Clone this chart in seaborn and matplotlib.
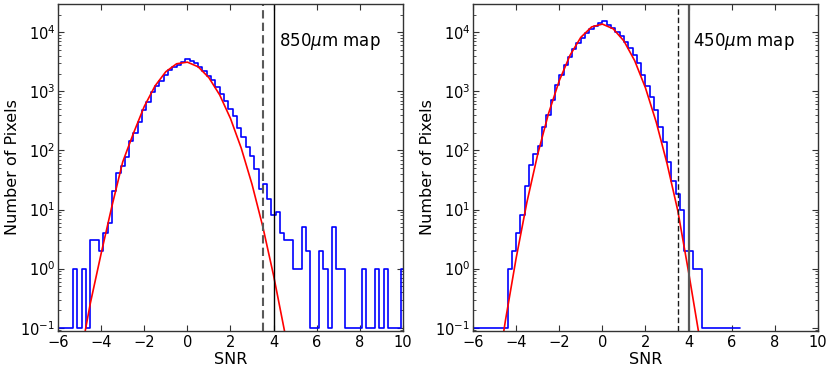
import numpy as np
import matplotlib
matplotlib.use("Agg")
import matplotlib.pyplot as plt
import seaborn as sns

# --- data ---
# 850um map: bins of width 0.2 centred on -6.0 ... 10.0 (empty bins plotted at 0.1)
snr850_first_edge = -6.1
counts_850 = [
    0.1, 0.1, 0.1, 0.1, 1, 0.1, 1, 0.1, 3, 3,          # -6.0 .. -4.2
    2, 4, 6, 21, 41, 54, 78, 143, 195, 299,             # -4.0 .. -2.2
    485, 670, 962, 1250, 1515, 1860, 2260, 2540, 2820, 3090,  # -2.0 .. -0.2
    3500, 3260, 2970, 2610, 2240, 1840, 1580, 1190, 915, 697,  # 0.0 .. 1.8
    505, 378, 240, 167, 113, 80, 48, 22, 27, 15,        # 2.0 .. 3.8
    8, 9, 4, 3, 3, 1, 1, 5, 2, 0.1,                     # 4.0 .. 5.8
    0.1, 2, 1, 0.1, 5, 1, 1, 0.1, 0.1, 0.1,             # 6.0 .. 7.8
    0.1, 1, 0.1, 0.1, 1, 0.1, 1, 0.1, 0.1, 0.1,         # 8.0 .. 9.8
    1,                                                  # 10.0
]
# 450um map: bins of width 0.2 centred on -5.9 ... 6.3
snr450_first_edge = -6.0
counts_450 = [
    0.1, 0.1, 0.1, 0.1, 0.1, 0.1, 0.1, 0.1,             # -5.9 .. -4.5
    1, 2, 4, 8, 25, 56, 88, 121, 250, 403,              # -4.3 .. -2.5
    720, 1260, 1900, 2820, 3890, 5250, 6550, 8040, 9660, 11200,  # -2.3 .. -0.5
    12800, 14250, 15800, 13300, 11700, 10000, 8700, 6970, 5520, 4150,  # -0.3 .. 1.5
    3010, 1910, 1245, 800, 489, 250, 138, 63, 31, 18,   # 1.7 .. 3.5
    10, 2, 2, 1, 1,                                     # 3.7 .. 4.5
    0.1, 0.1, 0.1, 0.1, 0.1, 0.1, 0.1, 0.1, 0.1,        # 4.7 .. 6.3
]
bin_width = 0.2

# gaussian fits (red curves)
fit_snr = [-5.0, -4.5, -4.0, -3.5, -3.0, -2.5, -2.0, -1.5, -1.0, -0.5,
           0.0, 0.5, 1.0, 1.5, 2.0, 2.5, 3.0, 3.5, 4.0, 4.5, 5.0]
fit_850 = [0.027, 0.26, 1.8, 11.4, 64, 196, 556, 1237, 2153, 2933,
           3126, 2608, 1702, 869, 347, 109, 26.6, 5.1, 0.76, 0.09, 0.008]
fit_450 = [0.008, 0.13, 1.5, 13.3, 86, 419, 1514, 4084, 8217, 12320,
           13770, 11480, 7130, 3304, 1143, 300, 60, 9.5, 0.87, 0.07, 0.004]

cut_dashed = 3.5
cut_solid = 4.0
labels = ["850$\\mu$m map", "450$\\mu$m map"]

# --- style ---
sns.set_style("ticks")
plt.rcParams.update({
    "font.family": ["DejaVu Sans"],
    "text.color": "black", "axes.labelcolor": "black",
    "xtick.direction": "in", "ytick.direction": "in",
    "xtick.top": True, "ytick.right": True,
    "xtick.major.size": 4, "ytick.major.size": 4,
    "ytick.minor.size": 2, "xtick.minor.size": 2,
    "xtick.major.width": 0.8, "ytick.major.width": 0.8,
    "ytick.minor.width": 0.6,
    "xtick.labelsize": 10.5, "ytick.labelsize": 10.5,
    "axes.labelsize": 11.5,
    "axes.edgecolor": "0.2", "axes.linewidth": 1.0,
    "xtick.color": "0.2", "ytick.color": "0.2",
    "xtick.labelcolor": "black", "ytick.labelcolor": "black",
})

fig, axes = plt.subplots(1, 2, figsize=(8.3, 3.74), dpi=100)
fig.subplots_adjust(left=0.0699, right=0.9855, bottom=0.115, top=0.989, wspace=0.203)

panels = [
    (axes[0], snr850_first_edge, counts_850, fit_850, labels[0], 4.27,
     dict(dashed=("0.35", 1.5), solid=("black", 1.0))),
    (axes[1], snr450_first_edge, counts_450, fit_450, labels[1], 4.2,
     dict(dashed=("0.1", 1.0), solid=("0.35", 1.6))),
]

for ax, first_edge, counts, fit, label, text_x, vstyle in panels:
    edges = np.round(first_edge + bin_width * np.arange(len(counts) + 1), 2)
    heights = list(counts) + [counts[-1]]
    sns.lineplot(x=edges, y=heights, drawstyle="steps-post", color="blue",
                 lw=1.2, ax=ax, estimator=None)
    sns.lineplot(x=fit_snr, y=fit, color="red", lw=1.2, ax=ax, estimator=None)
    ax.axvline(cut_dashed, color=vstyle["dashed"][0], lw=vstyle["dashed"][1],
               ls=(0, (4, 2)))
    ax.axvline(cut_solid, color=vstyle["solid"][0], lw=vstyle["solid"][1])

    ax.set_yscale("log")
    ax.set_xlim(-6, 10)
    ax.set_ylim(0.088, 3.0e4)
    ax.set_xticks([-6, -4, -2, 0, 2, 4, 6, 8, 10])
    ax.set_xlabel("SNR", labelpad=1)
    ax.set_ylabel("Number of Pixels", labelpad=0)
    ax.tick_params(axis="x", pad=3)
    ax.tick_params(axis="y", which="major", pad=2)
    ax.text(text_x, 0.872, label, transform=ax.get_xaxis_transform(),
            fontsize=12, va="baseline", ha="left")
    for s in ax.spines.values():
        s.set_visible(True)

fig.savefig("out.png", dpi=100)
